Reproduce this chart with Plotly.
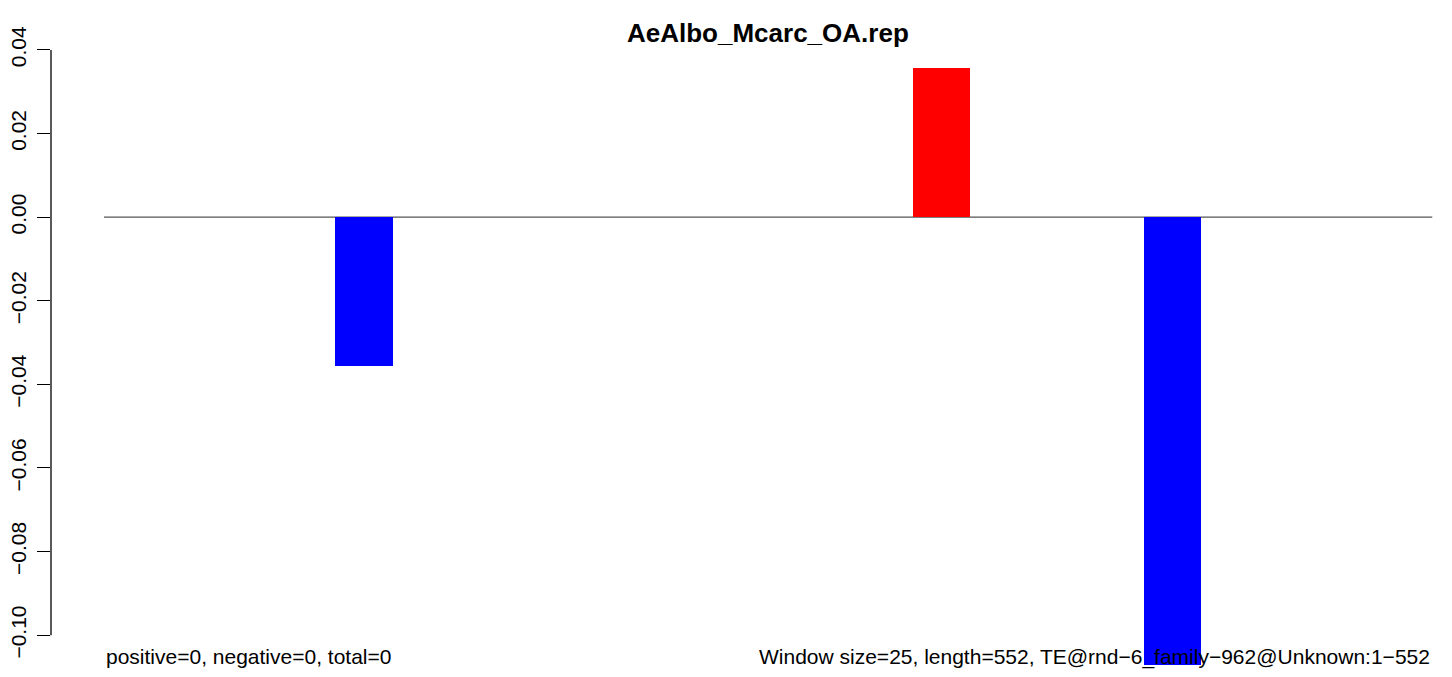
import plotly.graph_objects as go

# window values (12 windows)
values = [0.0, 0.0, -0.0357, 0.0, 0.0, 0.0, 0.0, 0.0357, 0.0, -0.1071, 0.0, 0.0]
tick_vals = [-0.10, -0.08, -0.06, -0.04, -0.02, 0.00, 0.02, 0.04]
tick_text = ["\u22120.10", "\u22120.08", "\u22120.06", "\u22120.04", "\u22120.02", "0.00", "0.02", "0.04"]
title = "AeAlbo_Mcarc_OA.rep"
left_note = "positive=0, negative=0, total=0"
right_note = "Window size=25, length=552, TE@rnd\u22126_family\u2212962@Unknown:1\u2212552"

# barplot layout: width 1, space 1 -> bar centres 1.5, 3.5, ...
x = [2 * i + 1.5 for i in range(len(values))]
colors = ["#ff0000" if v > 0 else "#0000ff" for v in values]
x_left = x[0] - 0.5
x_right = x[-1] + 0.5

FONT = "Liberation Sans, Arial, Helvetica, sans-serif"

fig = go.Figure()
fig.add_trace(go.Bar(x=x, y=values, width=1, marker_color=colors,
                     marker_line_width=0, showlegend=False, hoverinfo="skip"))

# zero line across the bars
fig.add_shape(type="line", xref="x", yref="y", x0=x_left, x1=x_right, y0=0, y1=0,
              line=dict(color="#555555", width=1.2), layer="below")
# y axis line only between first and last tick (R style)
fig.add_shape(type="line", xref="paper", yref="y", x0=0, x1=0,
              y0=tick_vals[0], y1=tick_vals[-1], line=dict(color="black", width=1.3))

fig.add_annotation(text="<b>" + title + "</b>", xref="x", yref="paper",
                   x=12.5, y=1.011, xanchor="center", yanchor="middle",
                   showarrow=False, font=dict(family=FONT, size=26, color="black"))
fig.add_annotation(text=left_note, xref="x", yref="paper", x=x_left, y=0.016,
                   xanchor="left", yanchor="middle", showarrow=False,
                   font=dict(family=FONT, size=21, color="black"))
fig.add_annotation(text=right_note, xref="x", yref="paper", x=x_right, y=0.016,
                   xanchor="right", yanchor="middle", showarrow=False,
                   font=dict(family=FONT, size=21, color="black"))

fig.update_layout(
    width=1452, height=677,
    margin=dict(l=43, r=0, t=32, b=18),
    plot_bgcolor="white", paper_bgcolor="white",
    bargap=0,
    font=dict(family=FONT, size=21, color="black"),
)
fig.update_xaxes(range=[0.0823, 24.48], visible=False, automargin=False)
fig.update_yaxes(range=[-0.10761, 0.04239], showgrid=False, zeroline=False,
                 showline=False, ticks="outside", ticklen=13, tickwidth=1.3,
                 tickcolor="black", tickvals=tick_vals, ticktext=tick_text,
                 tickangle=-90, ticklabelstandoff=3, automargin=False,
                 tickfont=dict(family=FONT, size=21, color="black"))

fig.write_html("out.html")
